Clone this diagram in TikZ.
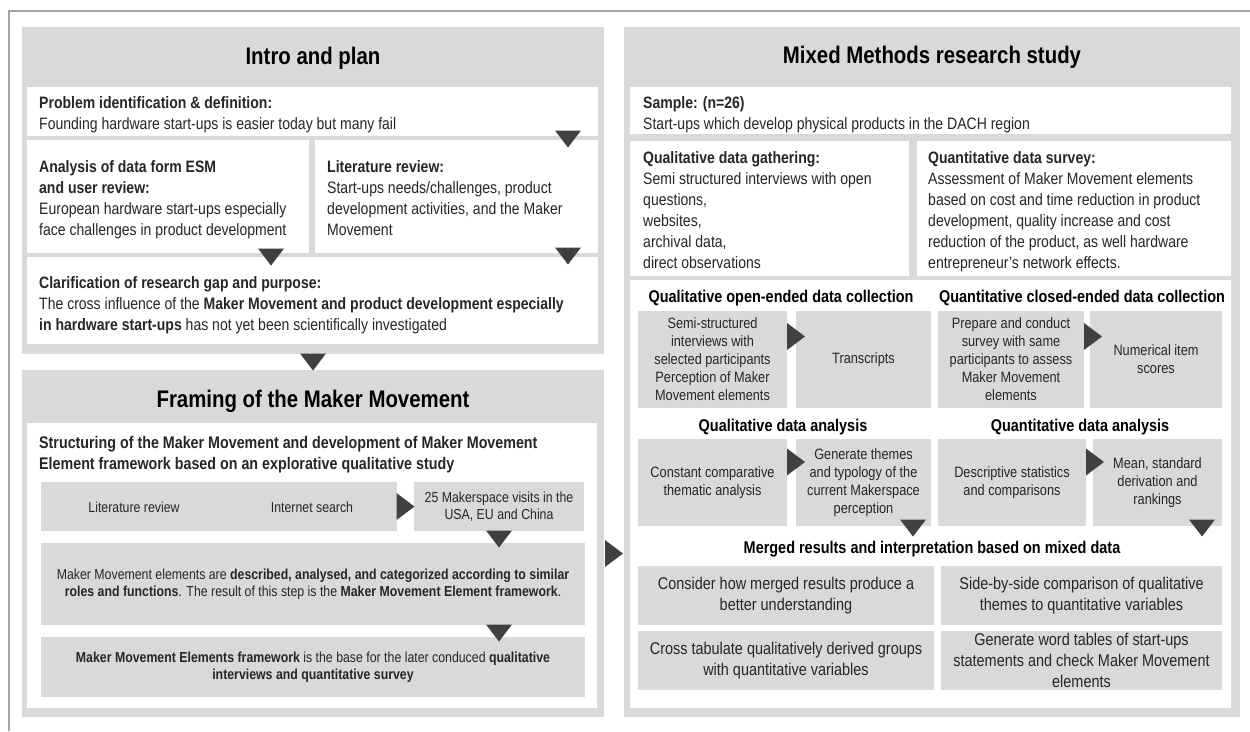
\documentclass[tikz,border=0pt]{standalone}
\usepackage{fontspec}
\setmainfont{Liberation Sans}[FakeStretch=0.85]
\usetikzlibrary{calc}
\definecolor{panelgray}{HTML}{D9D9D9}
\definecolor{boxgray}{HTML}{D9D9D9}
\definecolor{tricol}{HTML}{404040}
\definecolor{framecol}{HTML}{A6A6A6}
\definecolor{txt}{HTML}{262626}
\newcommand\fsz[2]{\fontsize{#1}{#2}\selectfont}

\begin{document}
\begin{tikzpicture}[x=1pt,y=-1pt,
  block/.style={anchor=north west, inner sep=0pt, outer sep=0pt, draw=none},
  panel/.style={block, fill=panelgray},
  wbox/.style={block, fill=white},
  gbox/.style={block, fill=boxgray},
  toptext/.style={anchor=north west, inner sep=0pt, align=left, text=txt, font=\fsz{16.5}{21}},
  ptitle/.style={inner sep=0pt, font=\bfseries\fsz{24}{28}, text=black},
  shead/.style={inner sep=0pt, font=\bfseries\fsz{17}{21}, text=black},
  ctext/.style={inner sep=0pt, align=center, text=txt},
  lefts/.style={ctext, font=\fsz{14.5}{17.5}},
  rows/.style={ctext, font=\fsz{15}{18}},
  rowm/.style={ctext, font=\fsz{17}{21}},
  pics/dtri/.style={code={\fill[tricol] (-13,-8.5) -- (13,-8.5) -- (0,8.5) -- cycle;}},
  pics/rtri/.style={code={\fill[tricol] (-9,-13.5) -- (-9,13.5) -- (9,0) -- cycle;}},
]
\useasboundingbox (0,0) rectangle (1250,731);

% outer frame (top and left edges)
\coordinate (ftl) at (9,11);
\coordinate (ftr) at (1250,11);
\coordinate (fbl) at (9,731);
\draw[framecol, line width=1.2] (ftr) -- (ftl) -- (fbl);

% ---------- Intro and plan ----------
\node[panel, minimum width=582, minimum height=327] (intro) at (22,27) {};
\node[ptitle] (introT) at (313,58) {Intro and plan};
\node[wbox, minimum width=571, minimum height=49] (prob) at (27,87) {};
\node[toptext] (probT) at (39,96) {\textbf{Problem identification \& definition:}\\Founding hardware start-ups is easier today but many fail};
\node[wbox, minimum width=282, minimum height=113] (anal) at (27,140) {};
\node[toptext] (analT) at (39,160) {\textbf{Analysis of data form ESM}\\\textbf{and user review:}\\European hardware start-ups especially\\face challenges in product development};
\node[wbox, minimum width=283, minimum height=113] (litrev) at (315,140) {};
\node[toptext] (litrevT) at (327,160) {\textbf{Literature review:}\\Start-ups needs/challenges, product\\development activities, and the Maker\\Movement};
\node[wbox, minimum width=571, minimum height=87] (clar) at (27,257) {};
\node[toptext] (clarT) at (39,276) {\textbf{Clarification of research gap and purpose:}\\The cross influence of the \textbf{Maker Movement and product development especially}\\\textbf{in hardware start-ups} has not yet been scientifically investigated};

\pic at ($(prob.south east)+(-30,3)$) {dtri};
\pic at ($(anal.south east)+(-38,4)$) {dtri};
\pic at ($(litrev.south east)+(-30,3)$) {dtri};

% ---------- Framing of the Maker Movement ----------
\node[panel, minimum width=582, minimum height=347] (framing) at (22,370) {};
\pic at ($(intro.south)!0.5!(framing.north)$) {dtri};
\node[ptitle] (framingT) at (313,401) {Framing of the Maker Movement};
\node[wbox, minimum width=570, minimum height=285] (frwhite) at (27,423) {};
\node[toptext, font=\bfseries\fsz{16.8}{21}] (frwhiteT) at (39,436) {Structuring of the Maker Movement and development of Maker Movement\\Element framework based on an explorative qualitative study};
\node[gbox, minimum width=356, minimum height=49] (litint) at (41,482) {};
\node[lefts] (litA) at (134,507) {Literature review};
\node[lefts] (litB) at (312,507) {Internet search};
\node[gbox, minimum width=170, minimum height=49] (visits) at (414,482) {};
\node[lefts] (visitsT) at (visits.center) {25 Makerspace visits in the\\USA, EU and China};
\node[gbox, minimum width=544, minimum height=82] (elements) at (41,543) {};
\node[lefts] (elementsT) at (elements.center) {Maker Movement elements are \textbf{described, analysed, and categorized according to similar}\\\textbf{roles and functions}. The result of this step is the \textbf{Maker Movement Element framework}.};
\node[gbox, minimum width=544, minimum height=60] (mmef) at (41,637) {};
\node[lefts] (mmefT) at (mmef.center) {\textbf{Maker Movement Elements framework} is the base for the later conduced \textbf{qualitative}\\\textbf{interviews and quantitative survey}};

\pic at ($(litint.east)!0.5!(visits.west)$) {rtri};
\pic at ($(visits.south)+(0,8)$) {dtri};
\pic at ($(elements.south -| visits.south)+(0,8)$) {dtri};

% ---------- Mixed Methods research study ----------
\node[panel, minimum width=616, minimum height=690] (mixed) at (624,27) {};
\pic at ($(framing.east)!0.5!(mixed.west |- framing.east)+(0,10)$) {rtri};
\node[ptitle] (mixedT) at (932,57) {Mixed Methods research study};
\node[wbox, minimum width=601, minimum height=47] (sample) at (630,87) {};
\node[toptext] (sampleT) at (643,96) {\textbf{Sample: (n=26)}\\Start-ups which develop physical products in the DACH region};
\node[wbox, minimum width=279, minimum height=135] (qualg) at (630,141) {};
\node[toptext] (qualgT) at (643,151) {\textbf{Qualitative data gathering:}\\Semi structured interviews with open\\questions,\\websites,\\archival data,\\direct observations};
\node[wbox, minimum width=314, minimum height=135] (quants) at (917,141) {};
\node[toptext] (quantsT) at (928,151) {\textbf{Quantitative data survey:}\\Assessment of Maker Movement elements\\based on cost and time reduction in product\\development, quality increase and cost\\reduction of the product, as well hardware\\entrepreneur’s network effects.};
\node[wbox, minimum width=601, minimum height=428] (mwhite) at (630,280) {};

\node[shead] (h1a) at (781,298) {Qualitative open-ended data collection};
\node[shead] (h1b) at (1082,298) {Quantitative closed-ended data collection};
\node[gbox, minimum width=149, minimum height=97] (r1a) at (638,311) {};
\node[rows] at (r1a.center) {Semi-structured\\interviews with\\selected participants\\Perception of Maker\\Movement elements};
\node[gbox, minimum width=135, minimum height=97] (r1b) at (796,311) {};
\node[rows] at (r1b.center) {Transcripts};
\node[gbox, minimum width=146, minimum height=97] (r1c) at (938,311) {};
\node[rows] at (r1c.center) {Prepare and conduct\\survey with same\\participants to assess\\Maker Movement\\elements};
\node[gbox, minimum width=132, minimum height=97] (r1d) at (1090,311) {};
\node[rows] at (r1d.center) {Numerical item\\scores};
\pic at ($(r1a.north east)+(9,25.5)$) {rtri};
\pic at ($(r1c.north east)+(9,25.5)$) {rtri};

\node[shead] (h2a) at (783,427) {Qualitative data analysis};
\node[shead] (h2b) at (1080,427) {Quantitative data analysis};
\node[gbox, minimum width=149, minimum height=87] (r2a) at (638,439) {};
\node[rows] at (r2a.center) {Constant comparative\\thematic analysis};
\node[gbox, minimum width=135, minimum height=87] (r2b) at (796,439) {};
\node[rows] at (r2b.center) {Generate themes\\and typology of the\\current Makerspace\\perception};
\node[gbox, minimum width=148, minimum height=87] (r2c) at (938,439) {};
\node[rows] at (r2c.center) {Descriptive statistics\\and comparisons};
\node[gbox, minimum width=129, minimum height=87] (r2d) at (1093,439) {};
\node[rows] at (r2d.center) {Mean, standard\\derivation and\\rankings};
\pic at ($(r2a.north east)+(9,23)$) {rtri};
\pic at ($(r2c.north east)+(9,23)$) {rtri};
\pic at ($(r2b.south east)+(-18,2)$) {dtri};
\pic at ($(r2d.south east)+(-20,2)$) {dtri};

\node[shead] (h3) at (932,549) {Merged results and interpretation based on mixed data};
\node[gbox, minimum width=296, minimum height=59] (r3a) at (638,566) {};
\node[rowm] at (r3a.center) {Consider how merged results produce a\\better understanding};
\node[gbox, minimum width=281, minimum height=59] (r3b) at (941,566) {};
\node[rowm] at (r3b.center) {Side-by-side comparison of qualitative\\themes to quantitative variables};
\node[gbox, minimum width=296, minimum height=59] (r4a) at (638,631) {};
\node[rowm] at (r4a.center) {Cross tabulate qualitatively derived groups\\with quantitative variables};
\node[gbox, minimum width=281, minimum height=59] (r4b) at (941,631) {};
\node[rowm] at (r4b.center) {Generate word tables of start-ups\\statements and check Maker Movement\\elements};
\end{tikzpicture}
\end{document}
